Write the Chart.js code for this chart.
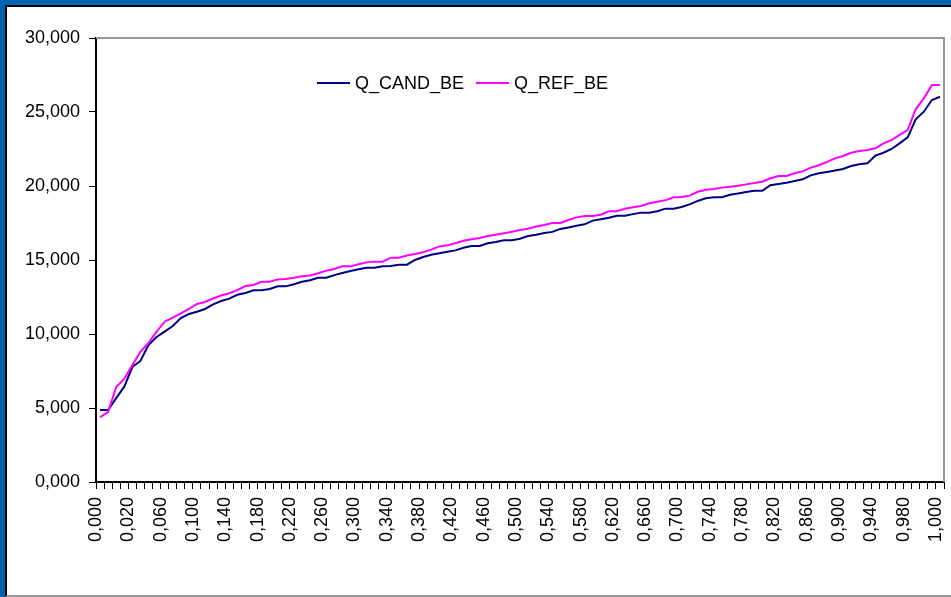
<!DOCTYPE html>
<html>
<head>
<meta charset="utf-8">
<script src="https://cdn.jsdelivr.net/npm/chart.js@4.4.1/dist/chart.umd.min.js"></script>
<style>
  html, body { margin: 0; padding: 0; background: #0063B1; overflow: hidden; }
  #frame {
    position: absolute; left: 5px; top: 5px;
    width: 946px; height: 588px;
    background: #fff;
    border-left: 2px solid #000; border-top: 2px solid #000;
    border-bottom: 2px solid #999;
  }
  canvas { display: block; }
</style>
</head>
<body>
<div id="frame"><canvas id="quantilChart" width="944" height="588"></canvas></div>
<script>
// categorias (cuantiles) tal como aparecen en el eje X
const quantiles = [
  '0,000','0,005','0,010','0,015','0,020','0,030','0,040','0,050','0,060','0,070',
  '0,080','0,090','0,100','0,110','0,120','0,130','0,140','0,150','0,160','0,170',
  '0,180','0,190','0,200','0,210','0,220','0,230','0,240','0,250','0,260','0,270',
  '0,280','0,290','0,300','0,310','0,320','0,330','0,340','0,350','0,360','0,370',
  '0,380','0,390','0,400','0,410','0,420','0,430','0,440','0,450','0,460','0,470',
  '0,480','0,490','0,500','0,510','0,520','0,530','0,540','0,550','0,560','0,570',
  '0,580','0,590','0,600','0,610','0,620','0,630','0,640','0,650','0,660','0,670',
  '0,680','0,690','0,700','0,710','0,720','0,730','0,740','0,750','0,760','0,770',
  '0,780','0,790','0,800','0,810','0,820','0,830','0,840','0,850','0,860','0,870',
  '0,880','0,890','0,900','0,910','0,920','0,930','0,940','0,950','0,960','0,970',
  '0,980','0,985','0,990','0,995','1,000'
];

const qCandBe = [
  4.86, 4.86, 5.67, 6.44, 7.77, 8.18, 9.26, 9.80, 10.16, 10.54,
  11.08, 11.35, 11.50, 11.69, 12.00, 12.23, 12.39, 12.65, 12.77, 12.95,
  12.95, 13.04, 13.22, 13.22, 13.36, 13.53, 13.63, 13.80, 13.80, 13.98,
  14.12, 14.26, 14.37, 14.48, 14.48, 14.57, 14.60, 14.68, 14.68, 15.00,
  15.20, 15.36, 15.45, 15.56, 15.65, 15.83, 15.95, 15.95, 16.13, 16.22,
  16.33, 16.33, 16.44, 16.62, 16.71, 16.82, 16.90, 17.10, 17.20, 17.32,
  17.41, 17.66, 17.75, 17.86, 17.99, 17.99, 18.10, 18.20, 18.20, 18.29,
  18.47, 18.47, 18.58, 18.76, 18.99, 19.17, 19.24, 19.24, 19.41, 19.50,
  19.60, 19.68, 19.68, 20.05, 20.14, 20.22, 20.34, 20.45, 20.72, 20.86,
  20.95, 21.05, 21.15, 21.35, 21.47, 21.53, 22.05, 22.25, 22.50, 22.88,
  23.29, 24.50, 25.02, 25.81, 26.03
];

const qRefBe = [
  4.39, 4.73, 6.42, 6.96, 7.90, 8.80, 9.39, 10.16, 10.83, 11.10,
  11.40, 11.69, 12.03, 12.16, 12.40, 12.60, 12.75, 12.96, 13.24, 13.31,
  13.53, 13.53, 13.69, 13.72, 13.80, 13.90, 13.96, 14.10, 14.28, 14.39,
  14.57, 14.57, 14.71, 14.84, 14.89, 14.89, 15.16, 15.16, 15.30, 15.40,
  15.52, 15.70, 15.92, 15.99, 16.13, 16.30, 16.40, 16.49, 16.62, 16.71,
  16.80, 16.91, 17.03, 17.11, 17.26, 17.36, 17.50, 17.50, 17.70, 17.88,
  17.97, 17.97, 18.06, 18.29, 18.29, 18.47, 18.56, 18.65, 18.83, 18.94,
  19.03, 19.24, 19.26, 19.35, 19.61, 19.75, 19.80, 19.89, 19.95, 20.02,
  20.11, 20.20, 20.29, 20.52, 20.68, 20.68, 20.86, 20.99, 21.24, 21.40,
  21.62, 21.87, 22.03, 22.25, 22.36, 22.43, 22.55, 22.88, 23.10, 23.45,
  23.78, 25.20, 25.92, 26.82, 26.82
];

const seriesNames = ['Q_CAND_BE', 'Q_REF_BE'];
const seriesColors = ['#000080', '#FF00FF'];

const FONT = '"Liberation Sans", Arial, sans-serif';
Chart.defaults.font.family = FONT;
Chart.defaults.font.size = 18;
Chart.defaults.color = '#000';

// borde gris del area de trazado (arriba y derecha) + leyenda estilo Excel
const excelDecor = {
  id: 'excelDecor',
  beforeDatasetsDraw(chart) {
    const { ctx, chartArea: a } = chart;
    ctx.save();
    ctx.strokeStyle = '#999';
    ctx.lineWidth = 2;
    ctx.beginPath();
    ctx.moveTo(a.left, a.top);
    ctx.lineTo(a.right, a.top);
    ctx.lineTo(a.right, a.bottom);
    ctx.stroke();
    ctx.restore();
  },
  afterDraw(chart) {
    const ctx = chart.ctx;
    const items = [{ x: 310 }, { x: 469 }];
    ctx.save();
    ctx.font = '18px ' + FONT;
    ctx.textBaseline = 'middle';
    ctx.fillStyle = '#000';
    items.forEach((it, i) => {
      ctx.strokeStyle = seriesColors[i];
      ctx.lineWidth = 2;
      ctx.beginPath();
      ctx.moveTo(it.x, 76);
      ctx.lineTo(it.x + 33, 76);
      ctx.stroke();
      ctx.fillText(seriesNames[i], it.x + 38, 77);
    });
    ctx.restore();
  }
};

const ctx = document.getElementById('quantilChart').getContext('2d');
const quantilChart = new Chart(ctx, {
  type: 'line',
  data: {
    labels: quantiles,
    datasets: [{
      label: seriesNames[0],
      data: qCandBe,
      borderColor: seriesColors[0],
      borderWidth: 2,
      pointRadius: 0,
      tension: 0,
      order: 2
    }, {
      label: seriesNames[1],
      data: qRefBe,
      borderColor: seriesColors[1],
      borderWidth: 2,
      pointRadius: 0,
      tension: 0,
      order: 1
    }]
  },
  options: {
    responsive: false,
    animation: false,
    layout: { padding: { top: 31, right: 7, left: 0, bottom: 0 } },
    plugins: {
      legend: { display: false },
      tooltip: { enabled: false }
    },
    scales: {
      x: {
        offset: true,
        grid: {
          offset: true,
          drawOnChartArea: false,
          drawTicks: true,
          tickLength: 7,
          color: '#000',
          lineWidth: 1
        },
        border: { color: '#000', width: 2 },
        ticks: {
          autoSkip: false,
          maxRotation: 90,
          minRotation: 90,
          padding: 8,
          labelOffset: -4,
          callback: function (value, index) {
            return index % 4 === 0 ? quantiles[index] : '';
          }
        },
        afterFit(scale) {
          scale.height = 113;
          scale.paddingLeft = 0;
          scale.paddingRight = 0;
        }
      },
      y: {
        min: 0,
        max: 30,
        grid: {
          drawOnChartArea: false,
          drawTicks: true,
          tickLength: 7,
          color: '#000',
          lineWidth: 1
        },
        border: { color: '#000', width: 2 },
        ticks: {
          stepSize: 5,
          padding: 9,
          callback: v => v.toFixed(3).replace('.', ',')
        },
        afterFit(scale) {
          scale.width = 89;
        }
      }
    }
  },
  plugins: [excelDecor]
});
</script>
</body>
</html>
